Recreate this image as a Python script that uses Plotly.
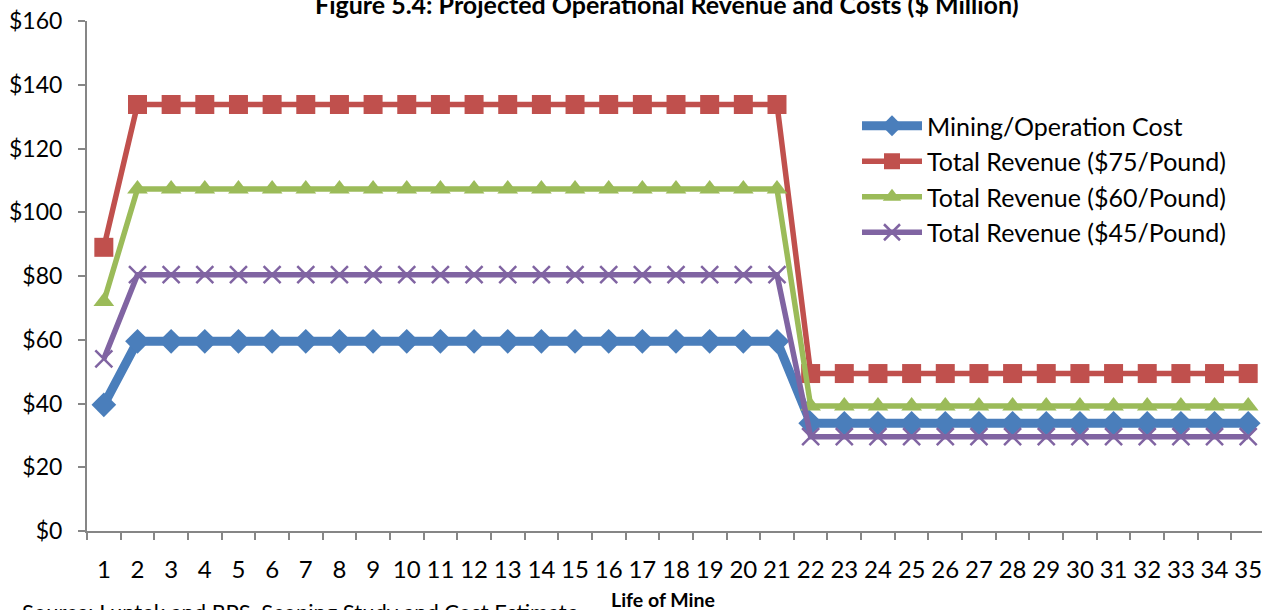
import plotly.graph_objects as go

years = [str(i) for i in range(1, 36)]

mining_cost = [39.6] + [59.5] * 20 + [33.8] * 14
rev_75 = [89.0] + [133.8] * 20 + [49.4] * 14
rev_60 = [72.0] + [107.3] * 20 + [39.2] * 14
rev_45 = [54.0] + [80.4] * 20 + [29.6] * 14

series_names = [
    "Mining/Operation Cost",
    "Total Revenue ($75/Pound)",
    "Total Revenue ($60/Pound)",
    "Total Revenue ($45/Pound)",
]
y_ticks = [0, 20, 40, 60, 80, 100, 120, 140, 160]
y_tick_text = ["$" + str(v) for v in y_ticks]

FONT = "Lato"
GRAY = "#868686"

fig = go.Figure()
styles = [
    (mining_cost, "#4A7EBB", 9, dict(symbol="diamond", size=19)),
    (rev_75, "#C0504D", 5.5, dict(symbol="square", size=19)),
    (rev_60, "#9BBB59", 5.5, dict(symbol="triangle-up", size=18)),
    (rev_45, "#8064A2", 5.5, dict(symbol="x-thin", size=17)),
]
for name, (vals, color, lw, mk) in zip(series_names, styles):
    marker = dict(color=color, **mk)
    if mk["symbol"] == "x-thin":
        marker["line"] = dict(color=color, width=2.5)
    else:
        marker["line"] = dict(width=0)
    fig.add_trace(go.Scatter(
        x=years, y=vals, name=name, mode="lines+markers",
        line=dict(color=color, width=lw), marker=marker,
        legendgroup=name,
    ))

fig.update_layout(
    width=1262, height=610,
    margin=dict(l=87, r=0, t=21, b=79, autoexpand=False),
    paper_bgcolor="white", plot_bgcolor="white",
    font=dict(family=FONT, size=22, color="black"),
    showlegend=True,
    legend=dict(
        x=(857 - 87) / 1175, y=(531 - 103) / 510, xanchor="left", yanchor="top",
        bgcolor="rgba(0,0,0,0)", font=dict(size=25, family=FONT),
        itemwidth=60, tracegroupgap=0,
    ),
    xaxis=dict(
        type="category", range=[-0.5, 34.41],
        showgrid=False, showline=True, linecolor=GRAY, linewidth=2,
        ticks="outside", tickson="boundaries", ticklen=7, tickcolor=GRAY, tickwidth=1.5,
        tickfont=dict(size=24, family=FONT), ticklabelstandoff=16, tickangle=0,
        zeroline=False, automargin=False,
    ),
    yaxis=dict(
        range=[0, 160], tickmode="array", tickvals=y_ticks, ticktext=y_tick_text,
        showgrid=False, showline=True, linecolor=GRAY, linewidth=2,
        ticks="outside", ticklen=7, tickcolor=GRAY, tickwidth=1.5,
        tickfont=dict(size=23, family=FONT), ticklabelstandoff=11,
        zeroline=False, automargin=False,
    ),
    annotations=[
        dict(text="<b>Figure 5.4: Projected Operational Revenue and Costs ($ Million)</b>",
             x=(667 - 87) / 1175, xref="paper", y=(531 - 4) / 510, yref="paper", showarrow=False,
             font=dict(size=25, family=FONT), xanchor="center", yanchor="middle"),
        dict(text="<b>Life of Mine</b>", x=(663 - 87) / 1175, xref="paper", y=(531 - 599) / 510, yref="paper",
             showarrow=False, font=dict(size=19.5, family=FONT), xanchor="center", yanchor="middle"),
        dict(text="Source: Luntek and RPS, Scoping Study and Cost Estimate", x=(20 - 87) / 1175, xref="paper",
             y=(531 - 611.5) / 510, yref="paper", showarrow=False, font=dict(size=22, family=FONT),
             xanchor="left", yanchor="middle"),
    ],
)

fig.write_html(
    "out.html",
    config={"displayModeBar": False},
    post_script="document.body.style.margin='0';document.body.style.overflow='hidden';",
)
